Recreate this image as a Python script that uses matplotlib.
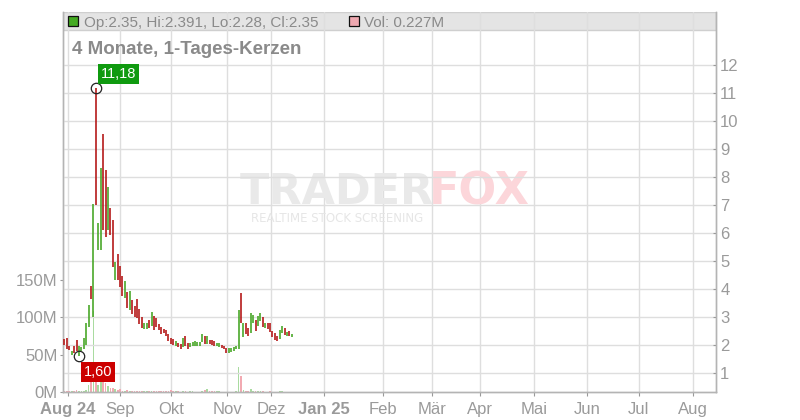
import numpy as np
import matplotlib
matplotlib.use('Agg')
import matplotlib.pyplot as plt
from matplotlib.patches import Rectangle

# ---------------- data ----------------
highs = [2.20, 2.26, 1.95, 1.80, 1.97, 2.18, 1.96, 1.94, 2.24, 2.80,
         3.43, 4.10, 7.04, 11.18, 6.36, 8.32, 9.54, 8.25, 7.65, 6.90,
         6.46, 4.98, 5.26, 4.82, 4.46, 4.29, 3.90, 3.93, 3.61, 3.39,
         3.64, 3.30, 2.99, 2.80, 2.77, 2.89, 3.19, 3.04, 2.95, 2.74,
         2.65, 2.57, 2.54, 2.39, 2.25, 2.22, 2.14, 2.06, 2.04, 2.26,
         2.32, 2.06, 2.06, 2.12, 2.14, 2.12, 2.12, 2.39, 2.32, 2.32,
         2.18, 2.18, 2.14, 2.08, 2.08, 2.00, 1.98, 1.89, 1.88, 1.90,
         1.94, 1.98, 3.25, 3.87, 2.80, 2.80, 2.60, 3.13, 3.07, 2.89,
         3.04, 3.15, 3.01, 2.77, 2.77, 2.77, 2.51, 2.42, 2.32, 2.54,
         2.68, 2.62, 2.48, 2.51, 2.391]
lows = [2.00, 1.85, 1.82, 1.64, 1.72, 1.80, 1.60, 1.78, 1.86, 2.00,
        2.65, 3.63, 3.00, 7.00, 5.40, 5.38, 6.10, 5.87, 6.10, 5.93,
        4.80, 4.32, 4.32, 4.08, 3.76, 3.69, 3.33, 3.25, 3.10, 3.01,
        2.98, 2.74, 2.62, 2.57, 2.57, 2.62, 2.68, 2.54, 2.65, 2.54,
        2.38, 2.42, 2.32, 2.14, 2.05, 2.00, 1.98, 1.94, 1.86, 1.94,
        1.96, 1.86, 1.94, 1.96, 1.98, 1.98, 1.98, 2.10, 2.02, 2.04,
        2.04, 2.00, 1.98, 1.98, 1.94, 1.89, 1.86, 1.73, 1.73, 1.76,
        1.80, 1.85, 1.86, 2.77, 2.30, 2.39, 2.33, 2.42, 2.77, 2.51,
        2.68, 2.87, 2.65, 2.60, 2.58, 2.48, 2.30, 2.18, 2.15, 2.20,
        2.42, 2.36, 2.32, 2.33, 2.28]
# 1 = rising day (green), 0 = falling day (red)
rising = [0, 0, 0, 1, 0, 0, 1, 1, 1, 1,
          1, 0, 1, 0, 1, 1, 0, 0, 1, 0,
          0, 1, 0, 0, 0, 1, 0, 1, 0, 0,
          0, 0, 0, 1, 1, 0, 1, 0, 0, 0,
          0, 0, 0, 0, 0, 0, 1, 0, 0, 1,
          0, 0, 1, 1, 1, 1, 1, 1, 0, 1,
          0, 0, 0, 1, 1, 0, 0, 0, 1, 1,
          1, 1, 1, 0, 1, 0, 0, 1, 1, 0,
          1, 1, 0, 1, 0, 0, 0, 0, 0, 1,
          1, 0, 1, 0, 1]
volumes_m = [2.0, 1.5, 0.8, 1.0, 1.2, 2.7, 1.5, 1.2, 1.5, 2.7,
             10, 16, 109, 18, 10, 14, 16, 12, 8, 5,
             5, 4, 3, 3.5, 2, 1.5, 2.5, 1.5, 2, 1.5,
             2, 1.5, 1.5, 1, 1, 1.2, 1.5, 1.5, 1, 1,
             1, 0.8, 0.8, 1.5, 3, 1, 0.8, 1, 0.5, 1.5,
             1, 0.5, 0.8, 1.5, 0.5, 0.5, 0.5, 1.5, 2.5, 4,
             1, 1.5, 0.8, 0.8, 1.5, 0.5, 0.5, 0.5, 0.5, 0.5,
             0.5, 0.8, 33, 21, 3, 2, 1.5, 4, 1.5, 1.5,
             1.5, 1.5, 1.5, 0.5, 0.5, 1, 0.5, 0.5, 0.5, 1,
             1, 0.5, 0.3, 0.3, 0.227]

# trading-day count at which each month begins (future months projected)
month_labels = ['Aug 24', 'Sep', 'Okt', 'Nov', 'Dez', 'Jan 25', 'Feb',
                'Mär', 'Apr', 'Mai', 'Jun', 'Jul', 'Aug']
month_start_day = [1.5, 23, 44, 67.3, 85.5, 107.3, 131.7,
                   151.9, 171.8, 194.1, 216, 237.5, 259.8]
bold_labels = ['Aug 24', 'Jan 25']

price_ticks = [1, 2, 3, 4, 5, 6, 7, 8, 9, 10, 11, 12]
volume_ticks_m = [0, 50, 100, 150]

last_ohlc = (2.35, 2.391, 2.28, 2.35)
last_volume = '0.227M'

# ---------------- styling ----------------
GREEN = '#4aa82a'
RED = '#b51a1a'
VGREEN = '#a9dba0'
VRED = '#f2aab2'
GRID = '#dedede'
AXIS = '#b4b4b4'
TXT = '#9a9a9a'

W, H = 800, 420
fig = plt.figure(figsize=(W / 100, H / 100), dpi=100)
fig.patch.set_facecolor('white')

L, R, T, B = 63, 716, 12, 392
rect = [L / W, 1 - B / H, (R - L) / W, (B - T) / H]

tick_font = ['Liberation Sans Narrow', 'Liberation Sans', 'DejaVu Sans']

axv = fig.add_axes(rect)        # volume (left scale)
ax = axv.twinx()                # price (right scale)
ax.set_zorder(axv.get_zorder() + 1)
ax.patch.set_visible(False)

x = np.arange(len(highs))
xlim = (-0.6, 269.4)
axv.set_xlim(*xlim)
ax.set_ylim(0.32, 13.89)
axv.set_ylim(0, 509)

# header band
axv.add_patch(Rectangle((0, (B - 30) / (B - T)), 1, 1 - (B - 30) / (B - T),
                        transform=axv.transAxes, facecolor='#e4e4e4',
                        edgecolor='#cfcfcf', linewidth=1, zorder=0))

# grid
for m in month_start_day:
    axv.axvline(m, color=GRID, lw=1, zorder=0.5)
for p in price_ticks:
    ax.axhline(p, color=GRID, lw=1, zorder=0)

# watermark
fig.text(240 / W, 1 - 192 / H, 'TRADER', fontsize=31, fontweight='bold',
         family='DejaVu Sans', color='#e9e9e9', va='center', ha='left', zorder=0)
fig.text(429 / W, 1 - 192 / H, 'FOX', fontsize=32, fontweight='bold',
         family='DejaVu Sans', color='#fcd6da', va='center', ha='left', zorder=0)
fig.text(251 / W, 1 - 218 / H, 'REALTIME STOCK SCREENING', fontsize=8.5,
         family='DejaVu Sans', color='#e6e6e6', va='center', ha='left', zorder=0)

# volume bars
vcols = [VGREEN if r else VRED for r in rising]
axv.bar(x, volumes_m, width=0.7, color=vcols, linewidth=0, zorder=2)

# candles
ccols = [GREEN if r else RED for r in rising]
ax.vlines(x, lows, highs, colors=ccols, linewidth=1.2, zorder=3)

# high / low markers
i_hi = int(np.argmax(highs))
i_lo = int(np.argmin(lows))
ax.plot([i_hi], [highs[i_hi]], 'o', mfc='none', mec='#222222', ms=7.5, mew=0.9, zorder=4)
ax.plot([i_lo], [lows[i_lo]], 'o', mfc='none', mec='#222222', ms=7.5, mew=0.9, zorder=4)
ax.annotate(f'{highs[i_hi]:.2f}'.replace('.', ','), xy=(i_hi, highs[i_hi]),
            xytext=(5, 7), textcoords='offset pixels', ha='left', va='bottom',
            color='white', fontsize=10.5, family='Liberation Sans',
            bbox=dict(boxstyle='square,pad=0.2', fc='#0f9a0f', ec='none'), zorder=5)
ax.annotate(f'{lows[i_lo]:.2f}'.replace('.', ','), xy=(i_lo, lows[i_lo]),
            xytext=(5, -9), textcoords='offset pixels', ha='left', va='top',
            color='white', fontsize=10.5, family='Liberation Sans',
            bbox=dict(boxstyle='square,pad=0.2', fc='#cc0000', ec='none'), zorder=5)

# axes styling
for a in (ax, axv):
    a.spines['top'].set_visible(False)
    for s in ('left', 'right', 'bottom'):
        a.spines[s].set_color(AXIS)
        a.spines[s].set_linewidth(1)

ax.set_yticks(price_ticks)
ax.set_yticklabels([str(p) for p in price_ticks])
ax.tick_params(axis='y', direction='in', length=2.5, color='#999999', pad=3,
               labelcolor=TXT, labelsize=12)
for lab in ax.get_yticklabels():
    lab.set_family(tick_font)

axv.set_yticks(volume_ticks_m)
axv.set_yticklabels([f'{v}M' for v in volume_ticks_m])
axv.tick_params(axis='y', direction='out', length=2.5, color='#999999', pad=1.5,
                labelcolor=TXT, labelsize=12)
for lab in axv.get_yticklabels():
    lab.set_family(tick_font)

axv.set_xticks(month_start_day)
axv.set_xticklabels(month_labels)
axv.tick_params(axis='x', direction='out', length=3, color='#999999', pad=4,
                labelcolor=TXT, labelsize=12)
for lab in axv.get_xticklabels():
    lab.set_family(tick_font)
    if lab.get_text() in bold_labels:
        lab.set_fontweight('bold')

# header texts
def px(xp, yp):
    return xp / W, 1 - yp / H

fig.patches.append(Rectangle(px(68.3, 26), 10 / W, 10.3 / H, transform=fig.transFigure,
                             facecolor='#44aa22', edgecolor='#111111', lw=0.9, figure=fig))
fig.text(*px(84, 27.3), 'Op:%.2f, Hi:%.3f, Lo:%.2f, Cl:%.2f' % last_ohlc,
         fontsize=11, family='Liberation Sans', color='#8a8a8a', va='baseline')
fig.patches.append(Rectangle(px(349.3, 26), 10 / W, 10.3 / H, transform=fig.transFigure,
                             facecolor='#efa9b1', edgecolor='#111111', lw=0.9, figure=fig))
fig.text(*px(364.5, 27.3), 'Vol: ' + last_volume,
         fontsize=11, family='Liberation Sans', color='#8a8a8a', va='baseline')

fig.text(*px(72.5, 54), '4 Monate, 1-Tages-Kerzen', fontsize=13.5, fontweight='bold',
         family='Liberation Sans', color='#8a8a8a', va='baseline')

fig.savefig('out.png', dpi=100)
